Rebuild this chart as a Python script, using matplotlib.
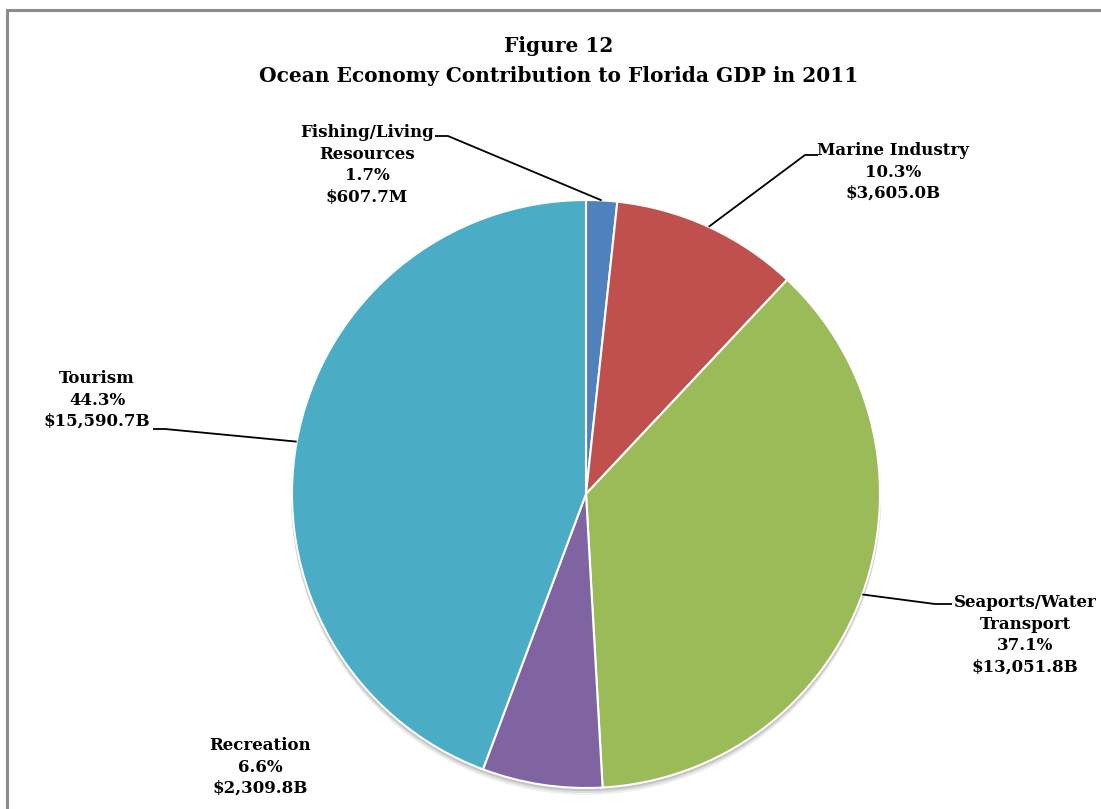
import numpy as np
import matplotlib
matplotlib.use("Agg")
import matplotlib.pyplot as plt
from matplotlib.patches import Circle, Rectangle

# Ocean economy sectors, clockwise from 12 o'clock
sectors = ["Fishing/Living\nResources", "Marine Industry", "Seaports/Water\nTransport",
           "Recreation", "Tourism"]
shares = [1.7, 10.3, 37.1, 6.6, 44.3]
amounts = ["$607.7M", "$3,605.0B", "$13,051.8B", "$2,309.8B", "$15,590.7B"]
colors = ["#4F81BD", "#C0504D", "#9BBB59", "#8064A2", "#4BACC6"]

W, H = 1101, 809
fig = plt.figure(figsize=(W / 100, H / 100), dpi=100)
ax = fig.add_axes([0, 0, 1, 1])

plt.rcParams["font.family"] = ["DejaVu Serif"]
FONT = dict(family="DejaVu Serif", fontweight="bold", color="black")

# chart frame
ax.add_patch(Rectangle((7, -20), W + 40, H - 10 + 20, fill=False,
                       edgecolor="#8c8c8c", linewidth=2.2, zorder=0))

cx, cy, R = 586, H - 494, 294

# soft drop shadow under the pie
for dy, a in [(6, 0.06), (4, 0.08), (2, 0.12)]:
    ax.add_patch(Circle((cx, cy - dy), R + 1, color="black", alpha=a,
                        linewidth=0, zorder=1))

wedges, _ = ax.pie(shares, colors=colors, startangle=90, counterclock=False,
                   center=(cx, cy), radius=R, frame=True,
                   wedgeprops=dict(edgecolor="white", linewidth=1.5))
for w in wedges:
    w.set_zorder(2)
ax.set_xlim(0, W)
ax.set_ylim(0, H)
ax.set_aspect("equal")
ax.axis("off")

ax.text(559, H - 46, "Figure 12", ha="center", va="center", fontsize=14.5, **FONT)
ax.text(559, H - 76, "Ocean Economy Contribution to Florida GDP in 2011",
        ha="center", va="center", fontsize=14.5, **FONT)

# label block centres and leader elbows (None = no leader)
label_xy = [(367, 165), (893, 172), (1025, 635), (260, 767), (97, 400)]
elbows = [[(435, 136), (448, 136)],
          [(818, 155), (805, 155)],
          [(952, 604), (935, 604)],
          None,
          [(153, 429), (165, 429)]]

for i, w in enumerate(wedges):
    mid = np.deg2rad((w.theta1 + w.theta2) / 2)
    txt = f"{sectors[i]}\n{shares[i]:.1f}%\n{amounts[i]}"
    lx, ly = label_xy[i]
    ax.text(lx, H - ly, txt, ha="center", va="center", fontsize=12,
            linespacing=1.35, zorder=5, **FONT)
    if elbows[i] is not None:
        px, py = cx + R * np.cos(mid), cy + R * np.sin(mid)
        pts = [(x, H - y) for x, y in elbows[i]] + [(px, py)]
        xs, ys = zip(*pts)
        ax.plot(xs, ys, color="black", linewidth=1.3, zorder=4,
                solid_capstyle="butt")

fig.savefig("out.png", dpi=100, facecolor="white")
